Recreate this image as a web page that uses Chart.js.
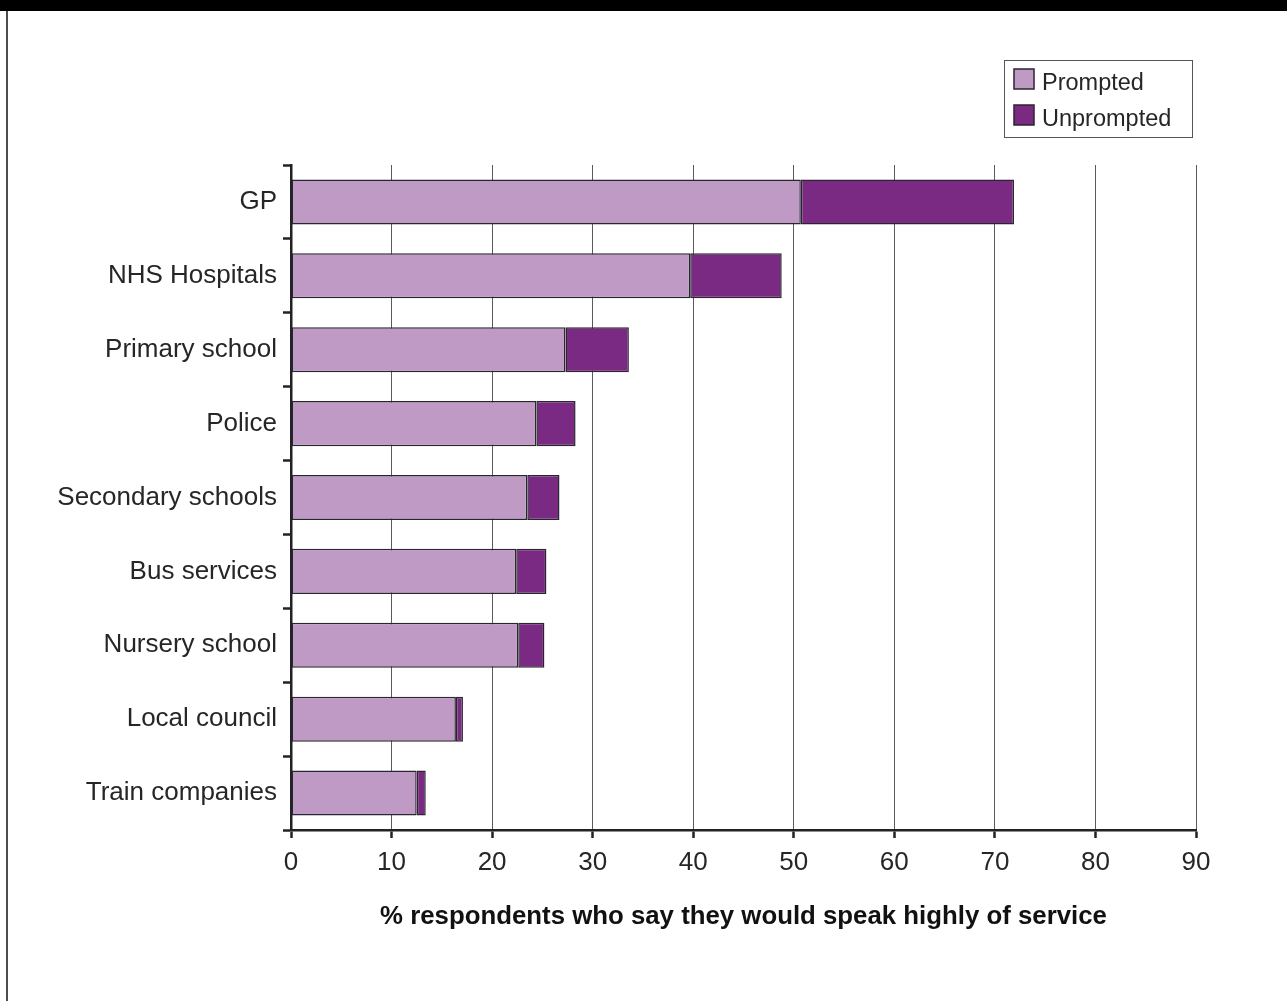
<!DOCTYPE html>
<html>
<head>
<meta charset="utf-8">
<title>Speaking highly of public services</title>
<script src="https://cdn.jsdelivr.net/npm/chart.js@4/dist/chart.umd.min.js"></script>
<style>
  html, body { margin: 0; padding: 0; background: #fff; }
  body { width: 1287px; height: 1001px; position: relative; overflow: hidden; }
  #topband { position: absolute; left: 0; top: 0; width: 1287px; height: 11px; background: #000; }
  #leftrule { position: absolute; left: 6px; top: 11px; width: 2px; height: 990px; background: #4d4d4d; }
  #chart { position: absolute; left: 0; top: 0; }
</style>
</head>
<body>
<div id="topband"></div>
<div id="leftrule"></div>
<canvas id="chart" width="1287" height="1001"></canvas>
<script>
// Services, top to bottom
const categories = [
  'GP', 'NHS Hospitals', 'Primary school', 'Police', 'Secondary schools',
  'Bus services', 'Nursery school', 'Local council', 'Train companies'
];
// % who would speak highly of the service when prompted
const promptedValues = [50.7, 39.7, 27.3, 24.4, 23.5, 22.4, 22.6, 16.4, 12.5];
// additional % who do so unprompted (stacked on top of prompted)
const unpromptedValues = [21.2, 9.1, 6.3, 3.9, 3.2, 3.0, 2.6, 0.7, 0.9];
// x-axis tick labels
const xTickValues = [0, 10, 20, 30, 40, 50, 60, 70, 80, 90];

const seriesNames = ['Prompted', 'Unprompted'];
const axisTitle = '% respondents who say they would speak highly of service';

const FONT = "'Liberation Sans', Arial, Helvetica, sans-serif";
const INK = '#262626';
const EDGE = '#2a2530';

// Boxed legend in the top-right corner
const boxedLegend = {
  id: 'boxedLegend',
  afterDraw(chart) {
    const ctx = chart.ctx;
    const x = 1004.5, y = 60.5, w = 188, h = 77;
    ctx.save();
    ctx.strokeStyle = '#555';
    ctx.lineWidth = 1;
    ctx.strokeRect(x, y, w, h);
    ctx.font = '23.5px ' + FONT;
    ctx.textBaseline = 'alphabetic';
    chart.data.datasets.forEach((ds, i) => {
      const sy = 69 + i * 36;
      ctx.fillStyle = ds.backgroundColor;
      ctx.fillRect(1014, sy, 20, 20);
      ctx.strokeStyle = EDGE;
      ctx.lineWidth = 1.5;
      ctx.strokeRect(1014, sy, 20, 20);
      ctx.fillStyle = INK;
      ctx.fillText(ds.label, 1042, sy + 20.5);
    });
    ctx.restore();
  }
};

new Chart(document.getElementById('chart'), {
  type: 'bar',
  data: {
    labels: categories,
    datasets: [
      {
        label: seriesNames[0],
        data: promptedValues,
        backgroundColor: '#be9ac4',
        borderColor: EDGE,
        borderWidth: 1.5,
        borderSkipped: false
      },
      {
        label: seriesNames[1],
        data: unpromptedValues,
        backgroundColor: '#7a2a82',
        borderColor: EDGE,
        borderWidth: 1.5,
        borderSkipped: false
      }
    ]
  },
  options: {
    indexAxis: 'y',
    responsive: false,
    animation: false,
    devicePixelRatio: 1,
    layout: { padding: { top: 165, right: 91, bottom: 0, left: 0 } },
    categoryPercentage: 1,
    barPercentage: 0.61,
    plugins: {
      legend: { display: false },
      tooltip: { enabled: false }
    },
    scales: {
      x: {
        type: 'linear',
        stacked: true,
        min: xTickValues[0],
        max: xTickValues[xTickValues.length - 1],
        afterBuildTicks(scale) {
          scale.ticks = xTickValues.map(v => ({ value: v }));
        },
        afterFit(scale) { scale.height = 171; },
        ticks: {
          color: INK,
          font: { family: FONT, size: 26 },
          padding: 9,
          maxRotation: 0
        },
        grid: {
          display: true,
          drawOnChartArea: true,
          color: '#5a5a5a',
          lineWidth: 1,
          drawTicks: true,
          tickLength: 8,
          tickColor: '#222',
          tickWidth: 2.5
        },
        border: { display: true, color: '#222', width: 2.5 },
        title: {
          display: true,
          text: axisTitle,
          color: '#111',
          font: { family: FONT, size: 25.8, weight: 'bold' },
          padding: { top: 0, bottom: 69 }
        }
      },
      y: {
        type: 'category',
        stacked: true,
        afterFit(scale) { scale.width = 291; },
        ticks: {
          color: INK,
          font: { family: FONT, size: 26 },
          padding: 6
        },
        grid: {
          display: true,
          offset: true,
          drawOnChartArea: false,
          drawTicks: true,
          tickLength: 8,
          tickColor: '#222',
          tickWidth: 2.5
        },
        border: { display: true, color: '#222', width: 2.5 }
      }
    }
  },
  plugins: [boxedLegend]
});
</script>
</body>
</html>
